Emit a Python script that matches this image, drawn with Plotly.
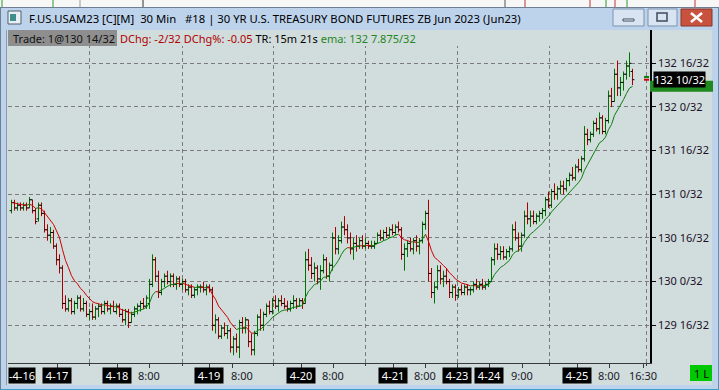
import plotly.graph_objects as go

# ---------------- data (prices in 32nds above BASE) ----------------
BASE = 129.0
open_32 = [58,61,59,60,59,60,59,62,58,55, 60,57,51,49,50,45,40,37,24,22,
           25,21,24,26,22,24,20,21,19,22, 23,21,24,22,23,21,23,20,18,21,
           17,20,22,23,24,23,24,31,40,34, 28,32,34,32,34,31,33,31,32,29,
           30,27,29,30,30,29,30,29,16,18, 12,15,13,14,8,11,8,17,15,18,
           10,7,13,19,16,20,23,21,25,23, 25,24,23,22,24,25,23,25,24,40,
           38,35,37,33,36,40,34,38,48,44, 47,52,51,48,44,46,45,47,45,46,
           45,45,46,49,48,50,49,51,50,52, 51,42,44,46,44,47,45,47,53,57,
           35,28,30,36,33,34,32,28,30,27, 29,28,30,29,29,31,30,31,30,31,
           32,40,44,42,43,41,43,44,51,48, 45,49,56,55,56,54,56,57,58,62,
           60,65,64,66,67,66,69,71,70,74, 73,77,86,84,86,90,88,92,87,91,
           100,98,108,103,105,108,111,109]
high_32 = [62,62,61,61,61,61,63,62,59,61, 61,58,53,52,51,46,42,38,27,26,
           26,25,27,27,26,25,22,24,23,24, 24,25,25,24,25,24,24,22,22,22,
           21,23,24,25,26,27,33,42,41,36, 33,35,36,35,35,34,34,33,33,31,
           31,30,31,31,32,31,31,30,20,19, 16,17,16,15,12,13,18,19,19,18,
           13,14,20,22,21,24,25,26,27,26, 27,26,25,25,27,26,26,26,43,44,
           41,39,38,38,42,41,39,50,52,49, 54,56,53,50,48,49,48,49,48,47,
           47,47,50,51,51,52,52,53,53,54, 52,46,47,48,48,49,48,54,58,62,
           37,32,38,38,36,37,33,31,31,30, 31,31,31,30,32,33,32,33,32,33,
           41,46,46,45,45,44,45,53,54,50, 50,58,61,58,58,57,58,59,63,65,
           66,68,67,69,69,70,72,74,75,77, 78,89,88,87,91,92,94,93,92,102,
           103,110,113,107,109,113,116,110]
low_32 = [57,58,58,58,58,58,59,57,53,54, 56,50,47,46,44,38,35,22,21,21,
          20,20,22,21,21,19,18,18,18,19, 20,20,21,20,21,20,19,17,16,15,
          17,19,20,21,22,22,22,30,32,26, 27,30,31,30,30,29,30,29,28,27,
          26,26,27,28,28,27,28,14,13,11, 11,12,11,6,5,6,4,13,13,8,
          5,5,12,14,14,19,20,20,22,21, 23,22,21,21,22,22,23,22,24,36,
          33,32,31,29,35,33,32,36,42,42, 46,49,46,42,40,43,44,44,44,44,
          44,44,46,47,47,48,48,49,49,50, 40,36,41,43,42,43,42,46,51,32,
          26,24,29,31,30,31,26,26,25,26, 27,27,27,27,28,29,29,29,29,30,
          32,38,40,40,40,40,41,43,47,43, 43,48,53,52,53,53,54,55,56,59,
          59,62,62,64,64,65,67,69,69,72, 72,76,82,83,85,87,86,86,86,90,
          96,98,100,100,102,106,107,104]
close_32 = [61,59,60,59,60,59,62,58,54,60, 57,51,49,50,45,40,37,24,22,25,
            21,24,26,22,24,20,21,19,22,23, 21,24,22,23,21,23,20,18,21,17,
            20,22,23,24,23,26,31,40,34,28, 32,34,32,34,31,33,31,32,29,30,
            27,29,30,30,29,30,29,16,18,12, 15,13,14,8,11,8,17,15,18,10,
            7,13,19,16,20,23,21,25,23,25, 24,23,22,24,25,23,25,24,40,38,
            35,37,33,36,40,34,38,48,44,47, 52,51,48,44,46,45,47,45,46,45,
            45,46,49,48,50,49,51,50,52,51, 42,44,46,44,47,45,47,53,57,35,
            28,30,36,33,34,32,28,30,27,29, 28,30,29,29,31,30,31,30,31,32,
            40,44,42,43,41,43,44,51,48,45, 49,56,55,56,54,56,57,58,62,60,
            65,64,66,67,66,69,71,70,74,73, 77,86,84,86,90,88,92,87,91,100,
            98,108,103,105,108,111,112,106]

EMA_PERIOD = 10
price_ticks = [129.5, 130.0, 130.5, 131.0, 131.5, 132.0, 132.5]
price_tick_text = ["129 16/32", "130 0/32", "130 16/32", "131 0/32",
                   "131 16/32", "132 0/32", "132 16/32"]
time_tick_pos = [15.2, 35.2, 45.9, 65.9, 73.6, 96.6, 107.2, 127.2, 137.9,
                 148.6, 159.2, 170.2, 188.6, 199.2, 210.6]
time_label_pos = [15.2, 35.2, 45.9, 65.9, 76.9, 96.6, 107.2, 127.2, 137.9,
                  148.6, 159.2, 170.2, 188.6, 199.2, 210.6]
time_label_text = ["4-17", "4-18", "8:00", "4-19", "8:00", "4-20", "8:00",
                   "4-21", "8:00", "4-23", "4-24", "9:00", "4-25", "8:00", "16:30"]
time_label_is_date = [True, True, False, True, False, True, False, True, False,
                      True, True, False, True, False, False]
grid_x = [25.9, 56.9, 87.2, 117.9, 148.6, 179.2, 211.6]
ask_bid = [132 + 11/32, 132 + 10/32]
last_text = "132 10/32"

# ---------------- derived ----------------
o = [BASE + v / 32 for v in open_32]
h = [BASE + v / 32 for v in high_32]
l = [BASE + v / 32 for v in low_32]
c = [BASE + v / 32 for v in close_32]
n = len(c)
alpha = 2 / (EMA_PERIOD + 1)
ema = [c[0]]
for v in c[1:]:
    ema.append(ema[-1] + alpha * (v - ema[-1]))

GREEN = "#007200"
RED = "#a80000"
EMA_GREEN = "#0a800a"
EMA_RED = "#d00000"
BG = "#d1dcdc"

fig = go.Figure()

# bars
for up, col in ((True, GREEN), (False, RED)):
    xs, ys = [], []
    for i in range(n):
        if (c[i] >= o[i]) == up:
            xs += [i, i, None]
            ys += [l[i], h[i], None]
    fig.add_trace(go.Scatter(x=xs, y=ys, mode="lines",
                             line=dict(color=col, width=1), hoverinfo="skip"))
tx, ty = [], []
for i in range(n):
    tx += [i - 0.62, i, None, i, i + 0.62, None]
    ty += [o[i], o[i], None, c[i], c[i], None]
fig.add_trace(go.Scatter(x=tx, y=ty, mode="lines",
                         line=dict(color="#000000", width=1), hoverinfo="skip"))

# ema coloured by slope
segs = []
cur_col = None
for i in range(1, n):
    col = EMA_GREEN if ema[i] >= ema[i - 1] - 1e-9 else EMA_RED
    if col != cur_col:
        segs.append([col, [i - 1], [ema[i - 1]]])
        cur_col = col
    segs[-1][1].append(i)
    segs[-1][2].append(ema[i])
for col, xs, ys in segs:
    fig.add_trace(go.Scatter(x=xs, y=ys, mode="lines",
                             line=dict(color=col, width=1), hoverinfo="skip"))

# fake axis for label tick marks
fig.add_trace(go.Scatter(x=[0], y=[c[0]], xaxis="x2", mode="markers",
                         marker=dict(size=0.1, opacity=0), hoverinfo="skip"))

# ---------------- layout helpers ----------------
PL, PR, PT, PB = 8, 650, 30, 363
W, H = 719, 390


def px(x):
    return (x - PL) / (PR - PL)


def py(y):
    return (PB - y) / (PB - PT)


shapes = []


def rect(x0, y0, x1, y1, fill, line=None, lw=0):
    shapes.append(dict(type="rect", xref="paper", yref="paper",
                       x0=px(x0), x1=px(x1), y0=py(y1), y1=py(y0),
                       fillcolor=fill, line=dict(width=lw, color=line or fill),
                       layer="above"))


def seg(x0, y0, x1, y1, col, lw=1):
    shapes.append(dict(type="line", xref="paper", yref="paper",
                       x0=px(x0), x1=px(x1), y0=py(y0), y1=py(y1),
                       line=dict(width=lw, color=col), layer="above"))


FRAME = "#bdd3ec"
# top strip (windows behind)
rect(0, 0, 719, 7, "#f7f7f7")
for xx, col in ((2, "#2a9a2a"), (53, "#2a9a2a"), (80, "#999999"), (143, "#333333"),
                (505, "#555555"), (525, "#c03030"), (590, "#c03030"), (606, "#2a9a2a"),
                (615, "#c03030"), (627, "#2a9a2a"), (695, "#c03030")):
    seg(xx, 0, xx, 7, col, 1)
# window frame
rect(0, 7, 719, 30, FRAME)
rect(0, 30, 7, 390, FRAME)
rect(712, 30, 719, 390, FRAME)
rect(0, 385, 719, 390, FRAME)
seg(0, 7.5, 719, 7.5, "#6e7f94", 1)
seg(6.5, 30, 6.5, 385, "#8a9bb0", 1)
seg(0, 389.5, 719, 389.5, "#3aa0c8", 1)
seg(718.5, 7, 718.5, 390, "#3aa0c8", 1)
seg(0.5, 7, 0.5, 390, "#6e7f94", 1)
# icon
rect(8, 11, 21, 24, "#e8eef4", "#50606a", 1)
rect(10, 14, 16, 21, "#3f8f8f")
# buttons
rect(613, 9, 644, 26, "#d8e4f2", "#7d93ae", 1)
rect(623, 19, 634, 21, "#ffffff", "#3c4b5c", 1)
rect(648, 9, 677, 26, "#d8e4f2", "#7d93ae", 1)
rect(657, 13, 667, 21, "rgba(0,0,0,0)", "#3c4b5c", 1.5)
rect(681, 9, 712, 26, "#c9523f", "#8a3328", 1)
seg(691, 13, 702, 22, "#ffffff", 2.5)
seg(691, 22, 702, 13, "#ffffff", 2.5)
# info band cover
rect(PL, PT, PR - 0.5, 46, BG)
rect(PL, PT, 117, 46, "#8e8e8e")
# 1 L box
rect(690, 365, 712, 381, "#00c800")
# ask/bid markers (data linked)
for val, col in zip(ask_bid, (EMA_GREEN, "#d00000")):
    shapes.append(dict(type="line", xref="paper", yref="y", x0=px(644), x1=px(649),
                       y0=val, y1=val, line=dict(color=col, width=2), layer="above"))
# green last-price box behind the black one
PPT = 87.33  # px per point
shapes.append(dict(type="rect", xref="paper", yref="y", x0=px(650), x1=px(713),
                   y0=c[-1] - 12 / PPT, y1=c[-1] - 1 / PPT, fillcolor="#1f8a1f",
                   line=dict(width=0), layer="above"))

FONT = "Noto Sans"
FS = 11
ann = []
ann.append(dict(xref="paper", yref="paper", x=px(27), y=py(18.5), xanchor="left",
                yanchor="middle", showarrow=False,
                text="F.US.USAM23 [C][M]  30 Min   #18 | 30 YR U.S. TREASURY BOND FUTURES ZB Jun 2023 (Jun23)",
                font=dict(family=FONT, size=11.3, color="#000000")))
ann.append(dict(xref="paper", yref="paper", x=px(11), y=py(38), xanchor="left",
                yanchor="middle", showarrow=False, text="Trade: 1@130 14/32",
                font=dict(family=FONT, size=FS, color="#111111")))
ann.append(dict(xref="paper", yref="paper", x=px(118), y=py(38), xanchor="left",
                yanchor="middle", showarrow=False,
                text=("<span style='color:#b00000'>DChg: -2/32 DChg%: -0.05</span>"
                      "<span style='color:#000000'> TR: 15m 21s</span>"
                      "<span style='color:#1f861f'> ema: 132 7.875/32</span>"),
                font=dict(family=FONT, size=FS, color="#000000")))
ann.append(dict(xref="paper", yref="paper", x=px(701), y=py(373), xanchor="center",
                yanchor="middle", showarrow=False, text="1 L",
                font=dict(family=FONT, size=FS, color="#000000")))
# last price label
ann.append(dict(xref="paper", yref="y", x=px(653), y=c[-1], xanchor="left",
                yanchor="middle", showarrow=False, text=last_text, bgcolor="#000000",
                borderpad=0, font=dict(family=FONT, size=FS, color="#ffffff")))
# time labels
ann.append(dict(xref="paper", yref="paper", x=px(8), y=py(375.5), xanchor="left",
                yanchor="middle", showarrow=False, text="-4-16", bgcolor="#000000",
                borderpad=0, font=dict(family=FONT, size=FS, color="#ffffff")))
for pos, txt, isd in zip(time_label_pos, time_label_text, time_label_is_date):
    ann.append(dict(xref="x", yref="paper", x=pos, y=py(375.5), xanchor="center",
                    yanchor="middle", showarrow=False,
                    text=(" " + txt + " ") if isd else txt,
                    bgcolor="#000000" if isd else None, borderpad=0,
                    font=dict(family=FONT, size=FS,
                              color="#ffffff" if isd else "#1a1a2a")))

XR = [-7 / 6, 212.8333]
YR = [132.5 - (PB - 63.3) / PPT, 132.5 + (63.3 - PT) / PPT]

fig.update_layout(
    width=W, height=H,
    margin=dict(l=PL, r=W - PR, t=PT, b=H - PB, pad=0),
    paper_bgcolor=BG, plot_bgcolor=BG,
    showlegend=False, hovermode=False,
    shapes=shapes, annotations=ann,
    xaxis=dict(range=XR, tickvals=grid_x, showticklabels=False, showgrid=True,
               gridcolor="#7a7a7a", griddash="4px,3px", gridwidth=1, zeroline=False,
               showline=True, linecolor="#3a3a3a", linewidth=1, ticks="outside",
               ticklen=2, tickcolor="#3a3a3a", fixedrange=True),
    xaxis2=dict(range=XR, overlaying="x", side="bottom", tickvals=time_tick_pos,
                showticklabels=False, showgrid=False, zeroline=False, ticks="outside",
                ticklen=4, tickcolor="#3a3a3a", showline=False),
    yaxis=dict(range=YR, side="right", tickvals=price_ticks, ticktext=price_tick_text,
               showgrid=True, gridcolor="#7a7a7a", griddash="4px,3px", gridwidth=1,
               zeroline=False, showline=True, linecolor="#000000", linewidth=1.5,
               ticks="outside", ticklen=4, tickcolor="#000000",
               tickfont=dict(family=FONT, size=FS, color="#201028")),
)

fig.write_html("out.html", config={"displayModeBar": False},
               post_script="document.body.style.margin='0';document.body.style.overflow='hidden';")
